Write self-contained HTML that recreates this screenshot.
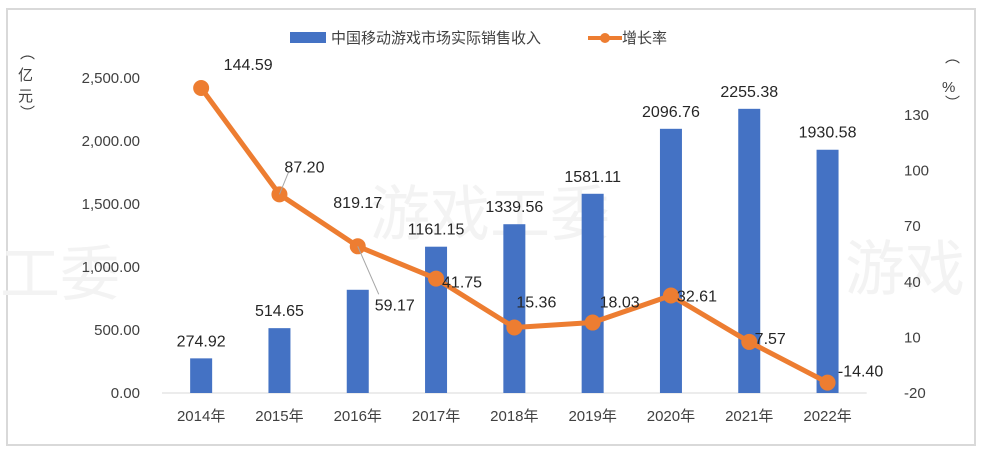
<!DOCTYPE html>
<html><head><meta charset="utf-8"><style>
body{margin:0;background:#fff;}
svg text{font-family:"Liberation Sans","Noto Sans CJK SC",sans-serif;}
</style></head><body>
<svg width="983" height="452" viewBox="0 0 983 452">
<rect x="7" y="9" width="968" height="436" fill="#fff" stroke="#d9d9d9" stroke-width="2"/>
<g fill="#f3f3f3" font-size="60">
<text x="0" y="295">工委</text><text x="370" y="235">游戏工委</text><text x="845" y="290">游戏</text>
</g>
<g id="legend">
<rect x="290" y="32" width="36" height="11" fill="#4472c4"/>
<text x="331" y="43" font-size="15" fill="#404040">中国移动游戏市场实际销售收入</text>
<line x1="588" y1="38" x2="622" y2="38" stroke="#ed7d31" stroke-width="4"/>
<circle cx="605" cy="38" r="5" fill="#ed7d31"/>
<text x="622" y="43" font-size="15" fill="#404040">增长率</text>
</g>
<g font-size="15" fill="#404040">
<text x="20" y="58">︵</text><text x="18" y="80">亿</text><text x="18" y="101">元</text><text x="20" y="118">︶</text>
</g>
<g font-size="15" fill="#404040">
<text x="945" y="62">︵</text><text x="942" y="92">%</text><text x="945" y="108">︶</text>
</g>
<g id="axes"></g><g id="bars"></g><g id="line"></g><g id="labels"></g>
</svg>
<script>
const categories=["2014年","2015年","2016年","2017年","2018年","2019年","2020年","2021年","2022年"];
const revenue=[274.92,514.65,819.17,1161.15,1339.56,1581.11,2096.76,2255.38,1930.58];
const growth=[144.59,87.20,59.17,41.75,15.36,18.03,32.61,7.57,-14.40];
const leftTicks=[0,500,1000,1500,2000,2500];
const rightTicks=[-20,10,40,70,100,130];
const NS="http://www.w3.org/2000/svg";
const x0=162,step=78.3,yBase=393,yTopL=78;
const xs=i=>x0+step*(i+0.5);
const yL=v=>yBase-(v/2500)*(yBase-yTopL);
const yR=v=>yBase-((v+20)/170)*(yBase-yTopL);
function mk(tag,attrs,parent,txt){const e=document.createElementNS(NS,tag);for(const k in attrs)e.setAttribute(k,attrs[k]);if(txt!==undefined)e.textContent=txt;document.getElementById(parent).appendChild(e);return e;}
const fmt=v=>v.toLocaleString('en-US',{minimumFractionDigits:2,maximumFractionDigits:2});
let el=mk('line',{x1:x0,x2:x0+step*9,y1:yBase,y2:yBase,stroke:'#d9d9d9','stroke-width':1},'axes');


leftTicks.forEach(t=>{const e=mk('text',{x:140,y:yL(t)+5,'text-anchor':'end','font-size':15,fill:'#404040'},'axes',fmt(t));

});
rightTicks.forEach(t=>{const e=mk('text',{x:904,y:yR(t)+5,'font-size':15,fill:'#404040'},'axes',String(t));

});
categories.forEach((c,i)=>{const e=mk('text',{x:xs(i),y:421,'text-anchor':'middle','font-size':15,fill:'#404040'},'axes',c);

});
const barLabelDy=[-12,-12,-82,-12,-12,-12,-12,-12,-12];
revenue.forEach((v,i)=>{const b=mk('rect',{x:xs(i)-11,y:yL(v),width:22,height:yBase-yL(v),fill:'#4472c4'},'bars');


const t=mk('text',{x:xs(i),y:yL(v)+barLabelDy[i],'text-anchor':'middle','font-size':16,fill:'#262626'},'labels',v.toFixed(2));

});
const pl=mk('polyline',{points:growth.map((v,i)=>xs(i)+','+yR(v)).join(' '),fill:'none',stroke:'#ed7d31','stroke-width':5,'stroke-linejoin':'round'},'line');


const ldx=[47,25,37,26,22,27,26,21,33],ldy=[-24,-28,58,3,-26,-21,0,-4,-12];
growth.forEach((v,i)=>{const c=mk('circle',{cx:xs(i),cy:yR(v),r:8,fill:'#ed7d31'},'line');


if(i===1||i===2){const l=mk('line',{x1:xs(i),y1:yR(v),x2:xs(i)+ldx[i]-16,y2:yR(v)+ldy[i]+(i===2?-10:6),stroke:'#a6a6a6','stroke-width':1},'labels');

}
const t=mk('text',{x:xs(i)+ldx[i],y:yR(v)+ldy[i]+6,'text-anchor':'middle','font-size':16,fill:'#262626'},'labels',v.toFixed(2));

});
</script>
</body></html>
